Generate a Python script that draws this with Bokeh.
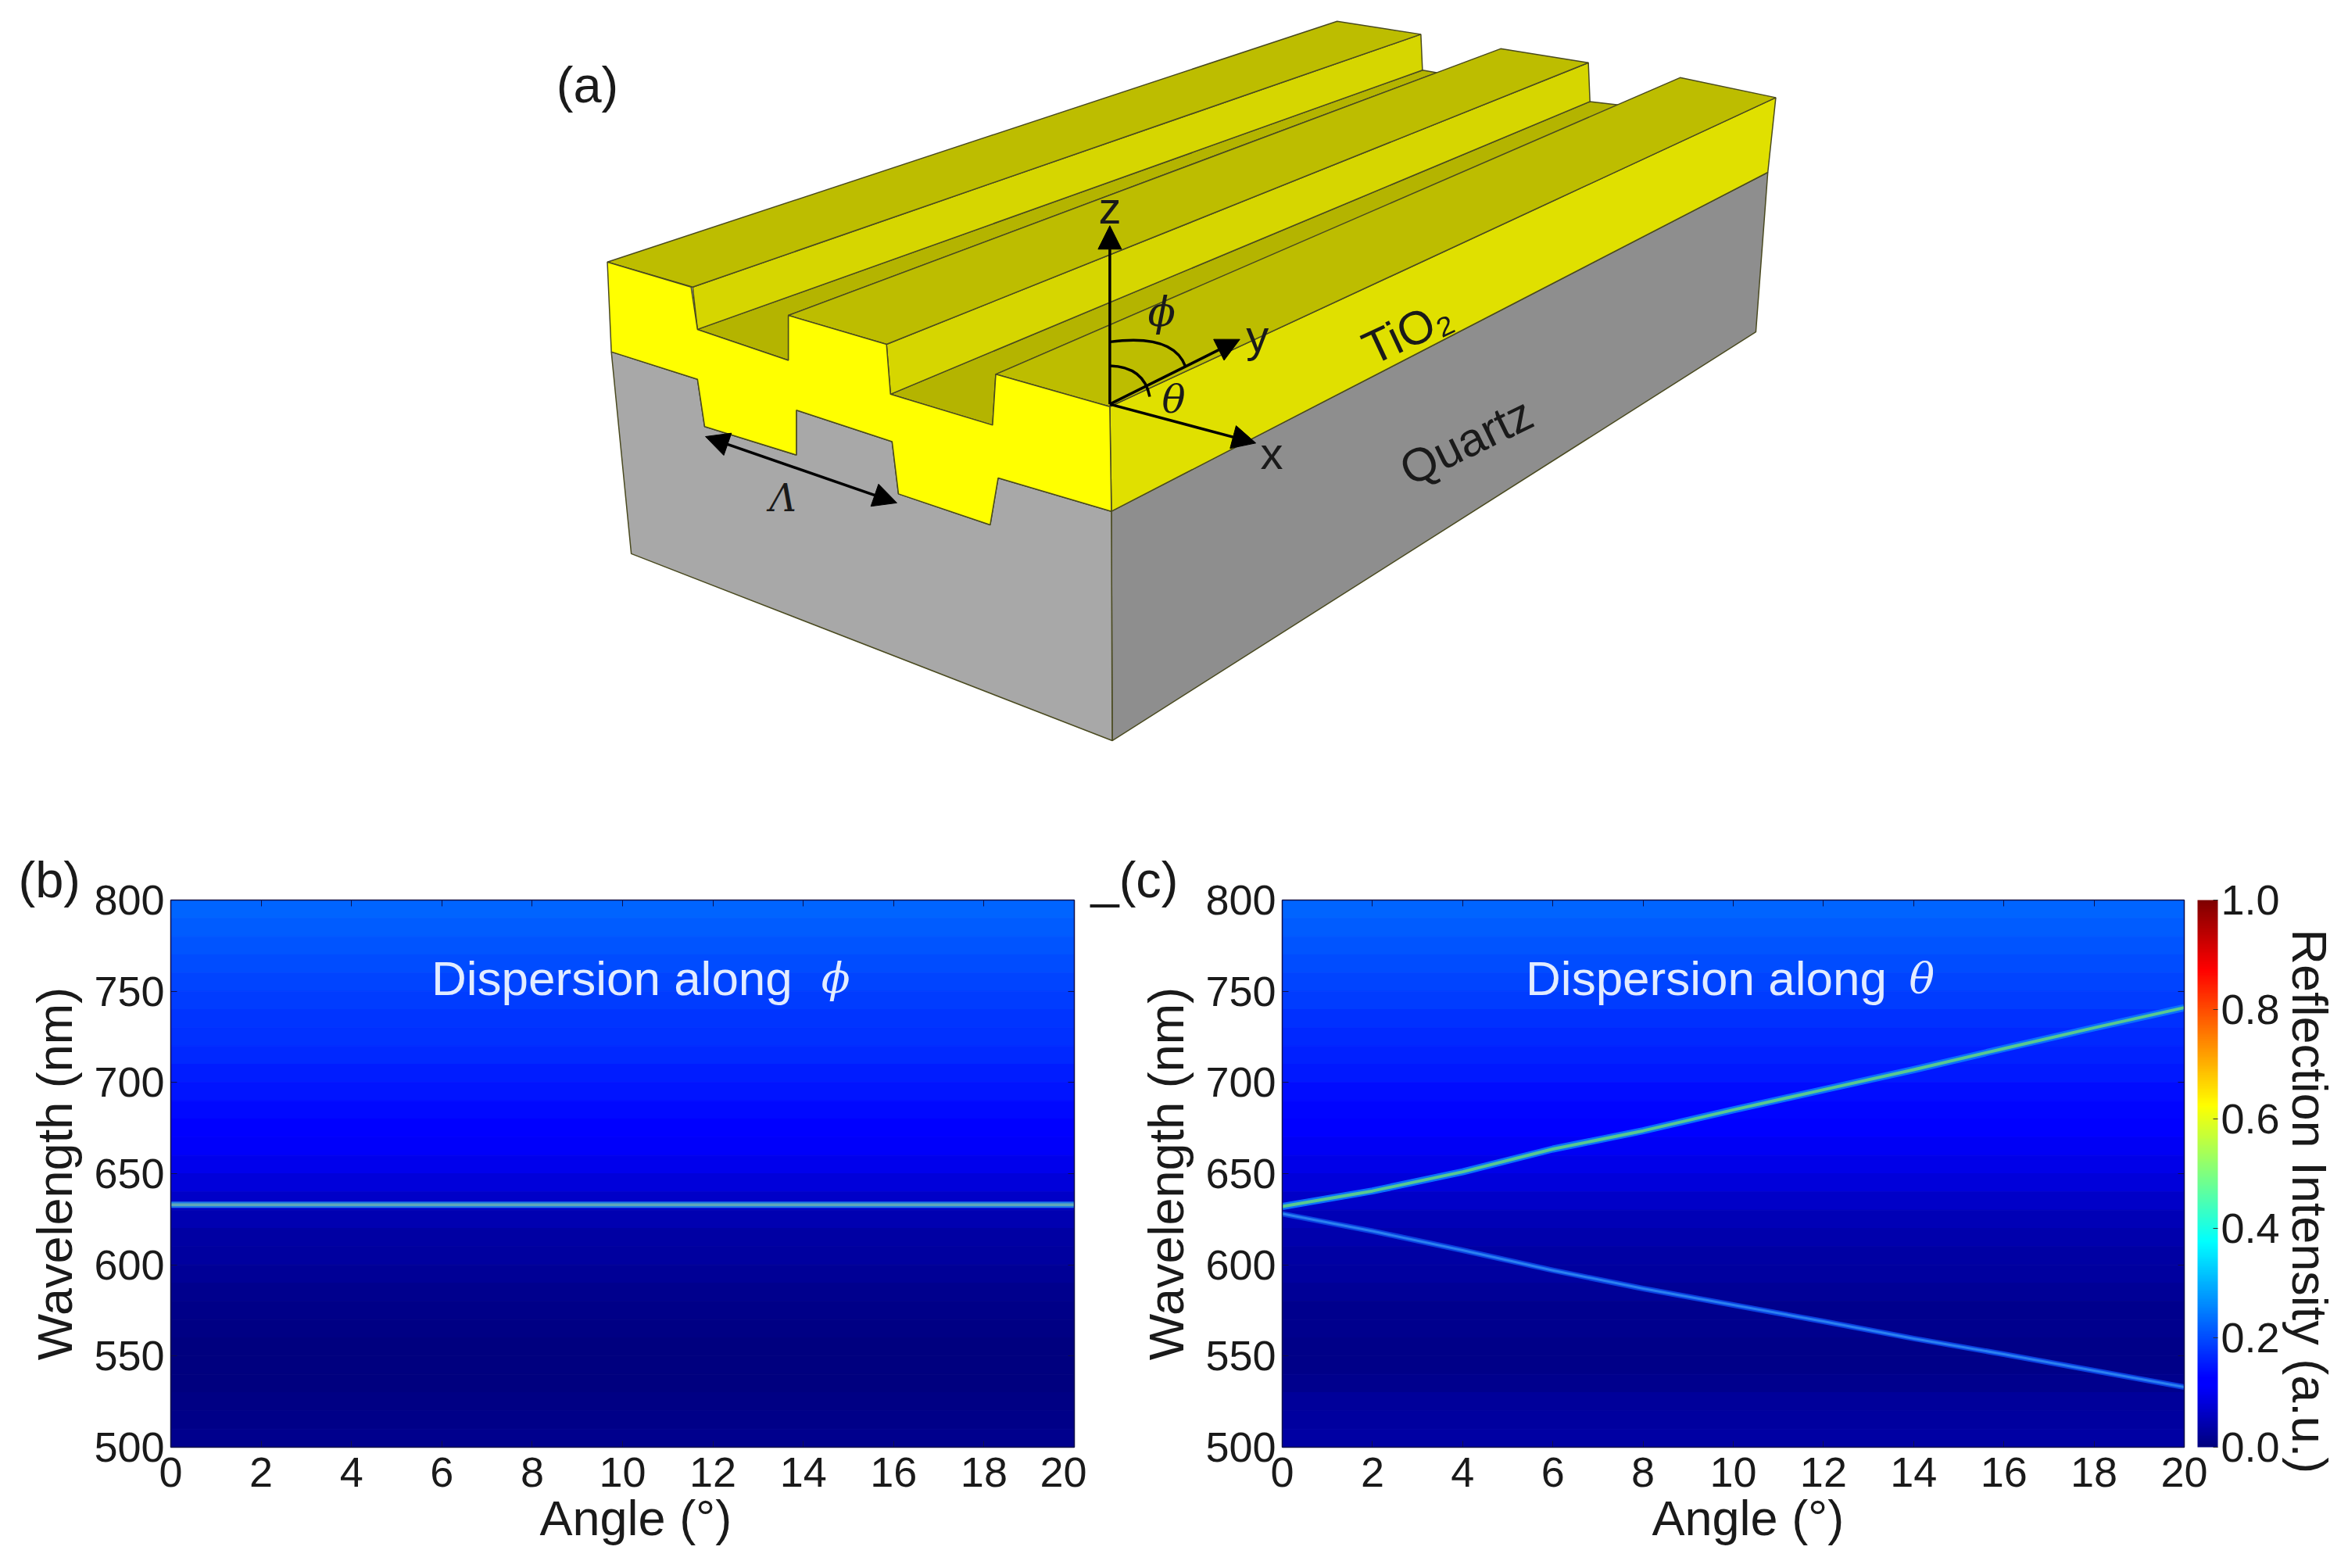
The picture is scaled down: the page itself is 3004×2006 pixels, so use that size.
from bokeh.plotting import figure
from bokeh.layouts import column, row
from bokeh.models import (Range1d, LinearAxis, FixedTicker, LinearColorMapper, ColorBar, Title,
                          Arrow, NormalHead, PrintfTickFormatter, ColumnDataSource)
from bokeh.core.properties import value
from bokeh.embed import file_html
from bokeh.resources import INLINE
import numpy as np

# ---------- data ----------
band_edges = [800,790,780,770,760,750,740,730,720,710,700,690,680,670,660,650,640,630,620,610,600,590,580,570,560,550,540,530,520,510,500]
bg_b = [.225,.215,.208,.2,.193,.186,.179,.172,.165,.155,.145,.135,.125,.108,.095,.082,.065,.045,.035,.03,.02,.015,.01,.005,.002,.002,.002,.005,.01,.015]
bg_c = [.225,.215,.208,.2,.193,.184,.175,.167,.158,.149,.14,.13,.12,.105,.092,.08,.065,.05,.04,.035,.03,.022,.015,.012,.01,.01,.015,.025,.03,.035]
angles = [0,2,4,6,8,10,12,14,16,18,20]
flat_band = [633]*11
upper_band = [632,640.5,651,663.5,673.5,685,696,707,718.6,730,741]
lower_band = [628,618.5,608,597,587,578,569,559.6,551,542,533]
x_ticks = list(range(0,21,2))
y_ticks = [500,550,600,650,700,750,800]
cbar_ticks = [0,.2,.4,.6,.8,1.0]
cbar_minor = [.1,.3,.5,.7,.9]
jet_anchor_pos = [0,.11,.125,.375,.625,.875,1]
jet_r = [0,0,0,0,1,1,.5]
jet_g = [0,0,0,1,1,0,0]
jet_b = [.5,1,1,1,0,0,0]

# diagram (a): vertices as read on the zoomed crop
gray_front = [(80,705),(188,760),(197,855),(312,912),(312,822),(432,885),(440,990),(555,1052),(565,958),(707,1025),(708,1485),(105,1110)]
gray_side = [(707,1025),(1530,345),(1515,665),(708,1485)]
yellow_front = [(75,525),(180,575),(188,660),(302,722),(302,632),(425,690),(430,790),(558,852),(562,750),(705,815),(707,1025),(565,958),(555,1052),(440,990),(432,885),(312,822),(312,912),(197,855),(188,760),(80,705)]
yellow_side = [(705,815),(1540,195),(1530,345),(707,1025)]
ridge_tops = [[(75,525),(990,42),(1095,68),(182,575)],
              [(302,632),(1195,97),(1305,125),(425,690)],
              [(562,750),(1420,155),(1540,195),(705,815)]]
ridge_walls = [[(182,575),(1095,68),(1097,140),(188,660)],
               [(425,690),(1305,125),(1307,203),(430,790)]]
groove_floors = [[(188,660),(1097,140),(1115,145),(302,632),(302,722)],
                 [(430,790),(1307,203),(1345,210),(562,750),(558,852)]]
axis_arrows = [((705,810),(705,452)),((705,810),(868,680)),((705,810),(888,888))]
period_arrow = ((198,875),(438,1008))
phi_arc = ((705,685),(785,668),(800,735))
theta_arc = ((705,733),(748,735),(755,795))
a_labels = [("(a)",50,170,0,"Liberation Sans","normal",65),("z",705,415,0,"Liberation Sans","normal",58),
            ("y",890,672,0,"Liberation Sans","normal",58),("x",908,908,0,"Liberation Sans","normal",58),
            ("TiO\u2082",1078,665,25,"Liberation Sans","normal",60),("Quartz",1152,885,26,"Liberation Sans","normal",60),
            ("\u03d5",770,625,0,"DejaVu Serif","italic",52),("\u03b8",785,800,0,"DejaVu Serif","italic",50),
            ("\u039b",295,998,0,"DejaVu Serif","italic",48)]

FONT = "Liberation Sans"
W_A, H_A = 2996, 1060
def ZX(d): return 700 + d/0.98
def ZY(d): return d/1.568
def poly(pts): return [ZX(p[0]) for p in pts], [ZY(p[1]) for p in pts]

pos = np.linspace(0,1,256)
def _c(a): return np.interp(pos, jet_anchor_pos, a)
JET = ["#%02x%02x%02x" % (int(r*255),int(g*255),int(b*255)) for r,g,b in zip(_c(jet_r),_c(jet_g),_c(jet_b))]
mapper = LinearColorMapper(palette=JET, low=0, high=1)

# ---------- panel a ----------
pa = figure(width=W_A, height=H_A, x_range=Range1d(0,W_A), y_range=Range1d(H_A,0), toolbar_location=None,
            output_backend="svg", x_axis_type=None, y_axis_type=None, min_border=0, outline_line_color=None)
pa.grid.visible = False
EDGE = "#4a4a20"
def add(pts, col):
    x,y = poly(pts)
    pa.patch(x,y,fill_color=col,line_color=EDGE,line_width=1.5)
add(gray_side,"#8e8e8e"); add(gray_front,"#a8a8a8")
add(yellow_side,"#e0e000")
for g in groove_floors: add(g,"#b4b400")
for g in ridge_walls: add(g,"#d6d600")
for g in ridge_tops: add(g,"#bdbd00")
add(yellow_front,"#ffff00")
head = lambda: NormalHead(size=30,fill_color="black",line_color="black",line_width=1)
for s,e in axis_arrows:
    pa.add_layout(Arrow(end=head(),x_start=ZX(s[0]),y_start=ZY(s[1]),x_end=ZX(e[0]),y_end=ZY(e[1]),line_width=3.5,line_color="black"))
pa.add_layout(Arrow(start=head(),end=head(),x_start=ZX(period_arrow[0][0]),y_start=ZY(period_arrow[0][1]),
                    x_end=ZX(period_arrow[1][0]),y_end=ZY(period_arrow[1][1]),line_width=3.5,line_color="black"))
for a in (phi_arc,theta_arc):
    pa.quadratic(x0=[ZX(a[0][0])],y0=[ZY(a[0][1])],cx=[ZX(a[1][0])],cy=[ZY(a[1][1])],x1=[ZX(a[2][0])],y1=[ZY(a[2][1])],line_color="black",line_width=3.5)
for t,dx,dy,ang,f,st,sz in a_labels:
    pa.text([ZX(dx)],[ZY(dy)],text=[t],angle=ang,angle_units="deg",text_font=value(f),text_font_style=st,
            text_font_size=value(f"{sz}px"),text_align="center",text_baseline="middle",text_color="#1a1a1a")

# ---------- panels b, c ----------
def title(text, off, size=63, standoff=0):
    return Title(text=text,align="left",offset=off,standoff=standoff,text_font=FONT,text_font_size=f"{size}px",
                 text_font_style="normal",text_color="#1a1a1a")

def heat(width, left, right, bg, xl, lab, sym, symx, lines, tag, tag_off, xlab_off):
    p = figure(width=width, height=938, x_range=Range1d(0,20), y_range=Range1d(500,800), toolbar_location=None,
               output_backend="svg", y_axis_label="Wavelength (nm)",
               min_border_left=left, min_border_right=right, min_border_top=91, min_border_bottom=147,
               outline_line_color=None)
    p.grid.visible = False
    src = ColumnDataSource(dict(top=band_edges[:-1], bottom=band_edges[1:], v=bg))
    tf = {"field":"v","transform":mapper}
    p.quad(left=0,right=20,top="top",bottom="bottom",source=src,fill_color=tf,line_color=tf,line_width=1)
    for ys,cols in lines:
        for col,w in cols:
            p.line(angles,ys,line_color=col,line_width=w,line_join="round")
    for a,ticks in ((p.xaxis[0],x_ticks),(p.yaxis[0],y_ticks)):
        a.ticker = FixedTicker(ticks=ticks)
        a.major_tick_in=8; a.major_tick_out=0; a.minor_tick_in=0; a.minor_tick_out=0
        a.major_tick_line_color="#10104a"; a.axis_line_color="#10104a"; a.axis_line_width=1.5
        a.major_label_text_font=FONT; a.major_label_text_font_size="54px"; a.major_label_text_color="#1a1a1a"
        a.axis_label_text_font=FONT; a.axis_label_text_font_size="63px"; a.axis_label_text_font_style="normal"; a.axis_label_text_color="#1a1a1a"
    p.xaxis[0].major_label_standoff=13
    p.yaxis[0].major_label_standoff=8; p.yaxis[0].axis_label_standoff=12
    p.add_layout(title("Angle (\u00b0)",xlab_off),"below")
    a = LinearAxis(ticker=FixedTicker(ticks=x_ticks),major_label_overrides={t:"" for t in x_ticks},major_tick_in=8,major_tick_out=0,
                   minor_tick_in=0,minor_tick_out=0,major_tick_line_color="#10104a",axis_line_color="#10104a",axis_line_width=1.5,major_label_standoff=0)
    p.add_layout(a,"above")
    a = LinearAxis(ticker=FixedTicker(ticks=y_ticks),major_label_overrides={t:"" for t in y_ticks},major_tick_in=8,major_tick_out=0,
                   minor_tick_in=0,minor_tick_out=0,major_tick_line_color="#10104a",axis_line_color="#10104a",axis_line_width=1.5,major_label_standoff=0)
    p.add_layout(a,"right")
    p.text([xl],[757],text=[lab],text_font=value(FONT),text_font_size=value("62px"),text_color="#e2ecff",text_baseline="middle")
    p.text([symx],[757],text=[sym],text_font=value("DejaVu Serif"),text_font_style="italic",text_font_size=value("54px"),text_color="#e2ecff",text_baseline="middle")
    p.add_layout(title(tag,tag_off,size=65,standoff=-20),"above")
    return p

flat_cols = [("#1f78e8",8),("#5fa8b8",3.5)]
up_cols = [("#0a70ff",9),("#58c890",4)]
lo_cols = [("#0a40e0",7),("#2a80f0",3)]
pb = heat(1390,218,16,bg_b,5.77,"Dispersion along","\u03d5",14.4,[(flat_band,flat_cols)],"(b)",-195,472)
pc = heat(1606,250,202,bg_c,5.4,"Dispersion along","\u03b8",13.9,[(upper_band,up_cols),(lower_band,lo_cols)],"_(c)",-245,473)

cb = ColorBar(color_mapper=mapper,ticker=FixedTicker(ticks=cbar_ticks,minor_ticks=cbar_minor),formatter=PrintfTickFormatter(format="%.1f"),
              width=26,height=700,padding=0,margin=0,location=(17,0),label_standoff=4,
              major_label_text_font=FONT,major_label_text_font_size="54px",major_label_text_color="#1a1a1a",
              major_tick_line_color="#303030",minor_tick_line_color="#303030",major_tick_in=6,minor_tick_out=0,bar_line_color=None)
pc.add_layout(cb,"right")
pc.add_layout(title("Reflection Intensity (a.u.)",37),"right")

page = column(pa, row(pb,pc,spacing=0), spacing=0)
open("out.html","w").write(file_html(page, INLINE))
